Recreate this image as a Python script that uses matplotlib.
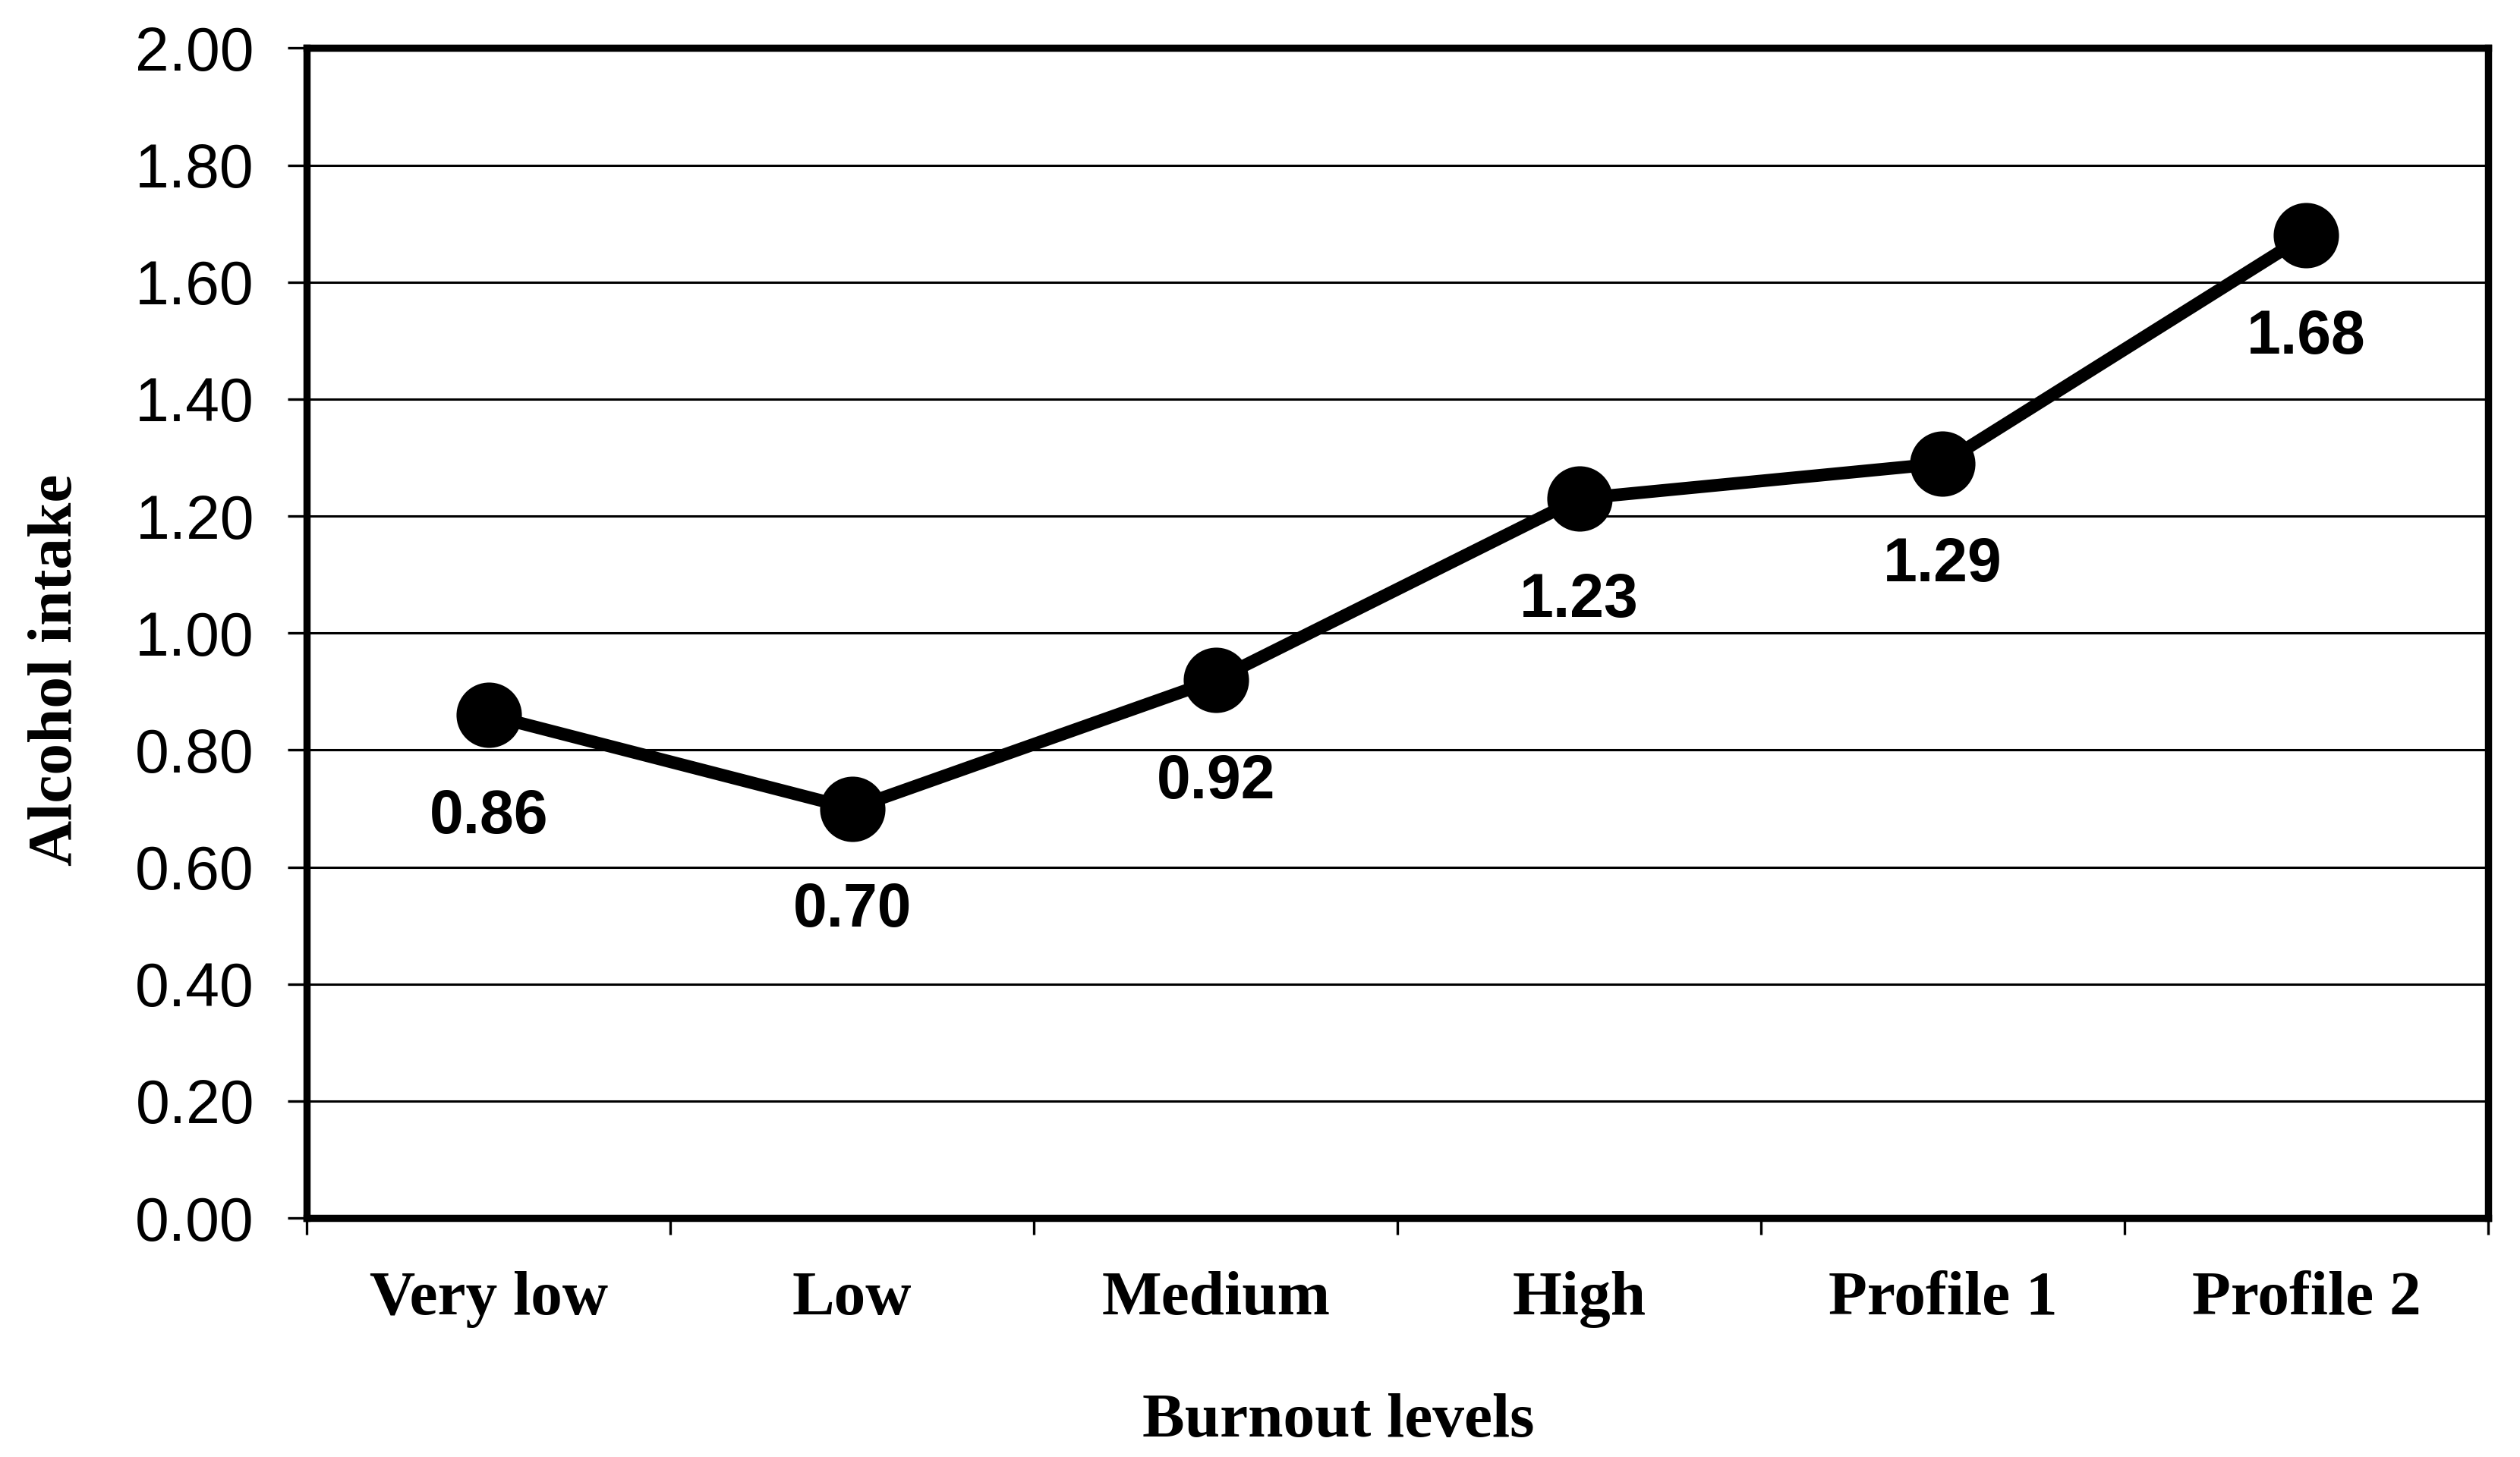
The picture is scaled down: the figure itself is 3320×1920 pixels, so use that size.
import matplotlib as mpl
mpl.use("Agg")
import matplotlib.pyplot as plt
import numpy as np

# data
categories = ["Very low", "Low", "Medium", "High", "Profile 1", "Profile 2"]
alcohol = [0.86, 0.70, 0.92, 1.23, 1.29, 1.68]
y_ticks = [0.0, 0.2, 0.4, 0.6, 0.8, 1.0, 1.2, 1.4, 1.6, 1.8, 2.0]

sans = ["Liberation Sans", "DejaVu Sans"]
serif = ["Liberation Serif", "DejaVu Serif"]

fig = plt.figure(figsize=(16.6, 9.6), dpi=200)
ax = fig.add_axes([0.1218, 0.164, 0.8655, 0.803])

x = np.arange(len(categories))
ax.plot(x, alcohol, color="black", linewidth=6, marker="o",
        markersize=30, markerfacecolor="black", markeredgecolor="black",
        zorder=5, clip_on=False)

for xi, v in zip(x, alcohol):
    ax.annotate("%.2f" % v, (xi, v), xytext=(0, -48.5), textcoords="offset points",
                ha="center", va="center", fontsize=29, fontweight="bold",
                family=sans, zorder=6)

ax.set_xlim(-0.5, len(categories) - 0.5)
ax.set_ylim(0, 2.0)

ax.set_yticks(y_ticks)
ax.set_yticklabels(["%.2f" % t for t in y_ticks], family=sans, fontsize=29)
ax.yaxis.grid(True, color="black", linewidth=1.1)
ax.set_axisbelow(True)

# category boundaries carry the ticks, labels sit in between
ax.set_xticks(np.arange(-0.5, len(categories), 1.0))
ax.set_xticklabels([])
ax.set_xticks(x, minor=True)
ax.set_xticklabels(categories, minor=True, family=serif, fontsize=30,
                   fontweight="bold")
ax.tick_params(axis="x", which="minor", length=0, pad=25)
ax.tick_params(axis="x", which="major", direction="out", length=8,
               width=1.2, color="black")
ax.tick_params(axis="y", direction="out", length=9, width=1.2, pad=16,
               color="black")

for s in ax.spines.values():
    s.set_linewidth(3.4)
    s.set_color("black")

fig.text(0.0224, 0.54, "Alcohol intake", rotation=90, ha="center",
         va="center", family=serif, fontsize=30, fontweight="bold")
fig.text(0.531, 0.0244, "Burnout levels", ha="center", va="center",
         family=serif, fontsize=30, fontweight="bold")

fig.savefig("out.png", dpi=200, facecolor="white")
